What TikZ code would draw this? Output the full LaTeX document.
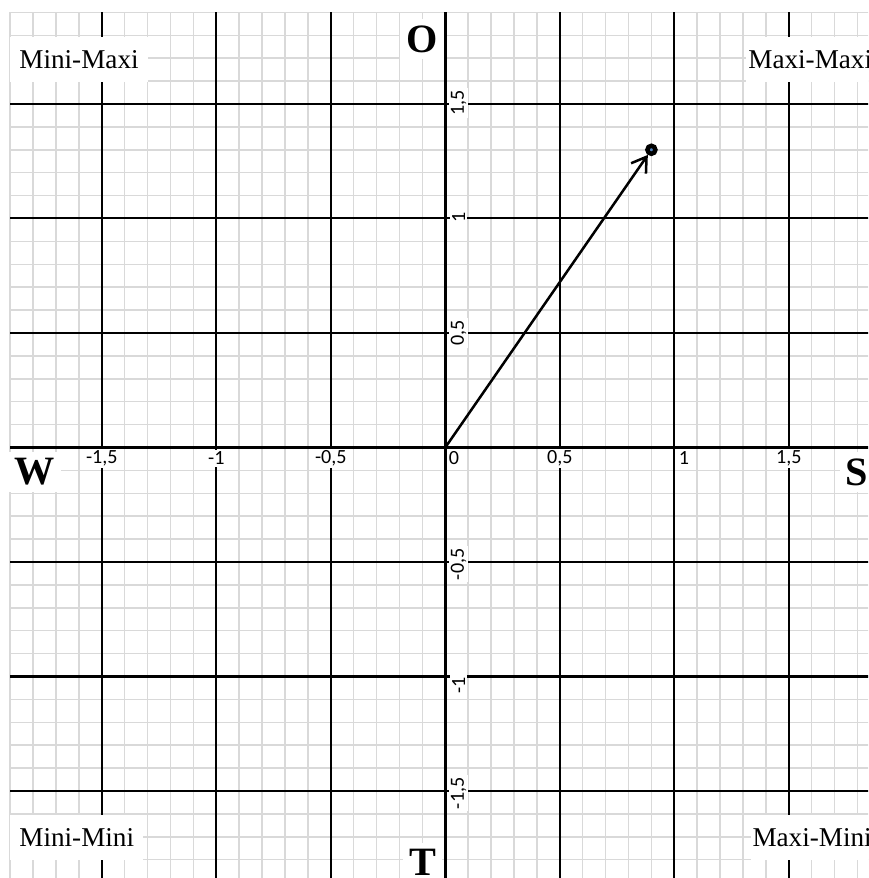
\documentclass[tikz,border=0pt]{standalone}
\usepackage{fontspec}
\setmainfont{Liberation Serif}
\newfontfamily\tickfont{Carlito}
\usepackage{xcolor}
\usepackage{tikz}
\usetikzlibrary{arrows.meta}
\definecolor{gridgray}{HTML}{D9D9D9}
\definecolor{markblue}{HTML}{4F81BD}

\begin{document}
\begin{tikzpicture}[
  x=4cm, y=4cm,
  minorline/.style={gridgray, line width=0.75pt},
  majorline/.style={black, line width=1pt},
  axisline/.style={black, line width=1.5pt},
  ticklabel/.style={font=\tickfont\fontsize{10}{12}\selectfont, fill=white, inner sep=1pt},
  yticklabel/.style={ticklabel, rotate=90},
  zone/.style={font=\fontsize{13.5}{16}\selectfont, fill=white, anchor=west,
    inner xsep=4.5pt, inner ysep=0pt, minimum height=22pt},
  pole/.style={font=\bfseries\fontsize{20}{24}\selectfont, fill=white, inner sep=3pt},
  dot/.style={circle, draw=black, fill=markblue, line width=2.2pt,
    minimum size=4pt, inner sep=0pt},
  vec/.style={-{Straight Barb[length=7pt,width=9pt]}, line width=1.25pt},
]
\clip (-1.9445,-1.8799) rectangle (1.8459,1.9541);

% Grid
\foreach \i in {-19,...,19} {
  \draw[minorline] (\i/10,-1.9) -- (\i/10,1.9);
  \draw[minorline] (-1.9,\i/10) -- (1.9,\i/10);
}
\foreach \v in {-1.5,-1,-0.5,0.5,1,1.5} {
  \draw[majorline] (\v,-1.9) -- (\v,1.9);
  \draw[majorline] (-1.9,\v) -- (1.9,\v);
}

% Quadrants
\node[zone] (minimaxi) at (-1.901,1.694) {Mini-Maxi};
\node[zone, inner xsep=1pt] (maximaxi) at (1.313,1.694) {Maxi-Maxi};
\node[zone] (minimini) at (-1.901,-1.703) {Mini-Mini};
\node[zone, inner xsep=1pt] (maximini) at (1.331,-1.703) {Maxi-Mini};

% Poles
\node[pole] (poleO) at (-0.102,1.784) {O};
\node[pole] (poleW) at (-1.792,-0.107) {W};
\node[pole] (poleS) at (1.797,-0.107) {S};
\node[pole] (poleT) at (-0.098,-1.81) {T};

% Tick labels
\node[ticklabel] (xa) at (-1.5,-0.046) {-1,5};
\node[ticklabel] (xb) at (-1,-0.046) {-1};
\node[ticklabel] (xc) at (-0.5,-0.046) {-0,5};
\node[ticklabel] (xd) at (0.038,-0.046) {0};
\node[ticklabel] (xe) at (0.5,-0.046) {0,5};
\node[ticklabel] (xf) at (1.042,-0.046) {1};
\node[ticklabel] (xg) at (1.5,-0.046) {1,5};
\node[yticklabel] (ya) at (0.058,1.504) {1,5};
\node[yticklabel] (yb) at (0.058,1.004) {1};
\node[yticklabel] (yc) at (0.058,0.5) {0,5};
\node[yticklabel] (yd) at (0.058,-0.51) {-0,5};
\node[yticklabel] (ye) at (0.058,-1.04) {-1};
\node[yticklabel] (yf) at (0.058,-1.51) {-1,5};

% Axes
\draw[axisline] (-1.9,0) -- (1.9,0);
\draw[axisline] (0,-1.9) -- (0,1.9);

% Vector
\coordinate (orig) at (0,0);
\node[dot] (pt) at (0.9,1.3) {};
\draw[vec] (orig) -- (pt);
\end{tikzpicture}
\end{document}
